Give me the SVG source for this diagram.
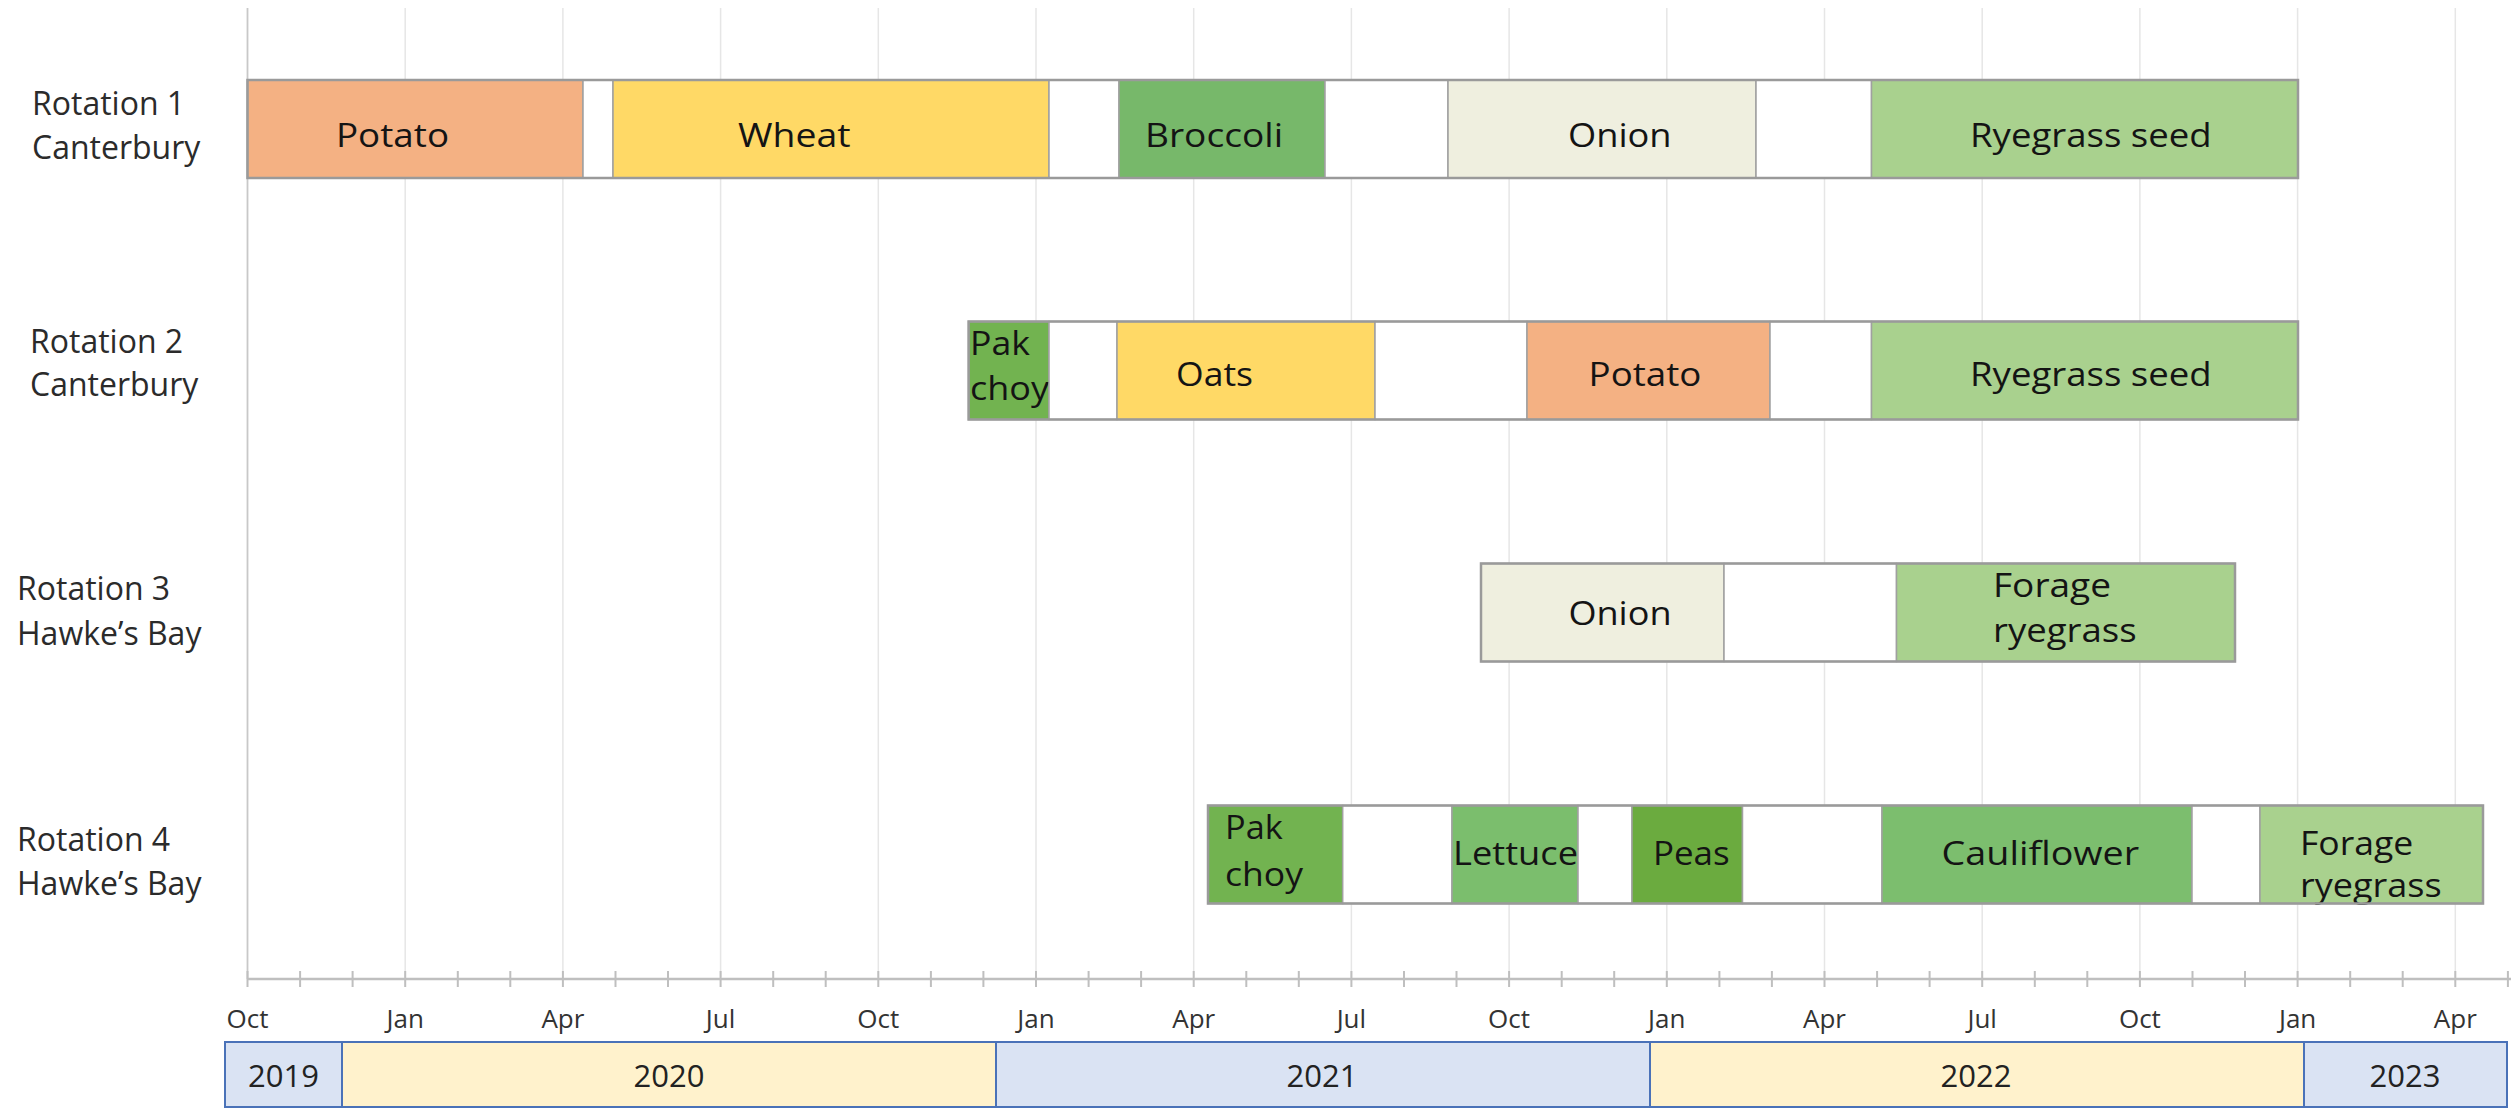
<svg xmlns="http://www.w3.org/2000/svg" width="2514" height="1109" viewBox="0 0 2514 1109">
<style>
  .grid{stroke:#E6E6E6;stroke-width:1.5}
  .axisv{stroke:#C8C8C8;stroke-width:1.8}
  .cell{stroke:#A0A0A0;stroke-width:1.5}
  .outline{fill:none;stroke:#9A9A9A;stroke-width:2.5}
  text{font-family:"Open Sans","Liberation Sans",sans-serif}
  .lbl{font-size:32px;fill:#2B2B2B}
  .crop{font-size:32px;fill:#141414}
  .mon{font-size:26px;fill:#333333;text-anchor:middle}
  .yr{font-size:31px;fill:#222222;text-anchor:middle}
  .ybox{stroke:#4A72B8;stroke-width:2}
  .blue{fill:#DAE3F3}
  .yel{fill:#FFF2CC}
  .w{fill:#FFFFFF}
  .potato{fill:#F4B183}
  .wheat{fill:#FFD966}
  .broc{fill:#77B86A}
  .onion{fill:#EFEFDF}
  .rye{fill:#A9D18E}
  .pak{fill:#72B350}
  .lett{fill:#7BBE6D}
  .peas{fill:#6BAB3F}
  .cauli{fill:#7CBE6E}
</style>

<rect width="2514" height="1109" fill="#FFFFFF"/>

<!-- grid -->
<g id="gridlines">
  <line class="axisv" x1="247.5" y1="8" x2="247.5" y2="979"/>
  <line class="grid" x1="405.2" y1="8" x2="405.2" y2="977"/>
  <line class="grid" x1="562.9" y1="8" x2="562.9" y2="977"/>
  <line class="grid" x1="720.6" y1="8" x2="720.6" y2="977"/>
  <line class="grid" x1="878.3" y1="8" x2="878.3" y2="977"/>
  <line class="grid" x1="1036" y1="8" x2="1036" y2="977"/>
  <line class="grid" x1="1193.7" y1="8" x2="1193.7" y2="977"/>
  <line class="grid" x1="1351.4" y1="8" x2="1351.4" y2="977"/>
  <line class="grid" x1="1509.1" y1="8" x2="1509.1" y2="977"/>
  <line class="grid" x1="1666.8" y1="8" x2="1666.8" y2="977"/>
  <line class="grid" x1="1824.5" y1="8" x2="1824.5" y2="977"/>
  <line class="grid" x1="1982.2" y1="8" x2="1982.2" y2="977"/>
  <line class="grid" x1="2139.9" y1="8" x2="2139.9" y2="977"/>
  <line class="grid" x1="2297.6" y1="8" x2="2297.6" y2="977"/>
  <line class="grid" x1="2455.3" y1="8" x2="2455.3" y2="977"/>
</g>

<!-- axis -->
<g id="axis">
  <line x1="247.5" y1="979" x2="2511" y2="979" stroke="#BFBFBF" stroke-width="2.5"/>
  <path d="M247.5 971V987M300.1 971V987M352.6 971V987M405.2 971V987M457.8 971V987M510.3 971V987M562.9 971V987M615.5 971V987M668 971V987M720.6 971V987M773.2 971V987M825.7 971V987M878.3 971V987M930.9 971V987M983.4 971V987M1036 971V987M1088.6 971V987M1141.1 971V987M1193.7 971V987M1246.3 971V987M1298.8 971V987M1351.4 971V987M1404 971V987M1456.5 971V987M1509.1 971V987M1561.7 971V987M1614.2 971V987M1666.8 971V987M1719.4 971V987M1771.9 971V987M1824.5 971V987M1877.1 971V987M1929.6 971V987M1982.2 971V987M2034.8 971V987M2087.3 971V987M2139.9 971V987M2192.5 971V987M2245 971V987M2297.6 971V987M2350.2 971V987M2402.7 971V987M2455.3 971V987M2507.9 971V987" stroke="#BFBFBF" stroke-width="2" fill="none"/>
  <text class="mon" x="247.5" y="1028">Oct</text>
  <text class="mon" x="405.2" y="1028">Jan</text>
  <text class="mon" x="562.9" y="1028">Apr</text>
  <text class="mon" x="720.6" y="1028">Jul</text>
  <text class="mon" x="878.3" y="1028">Oct</text>
  <text class="mon" x="1036" y="1028">Jan</text>
  <text class="mon" x="1193.7" y="1028">Apr</text>
  <text class="mon" x="1351.4" y="1028">Jul</text>
  <text class="mon" x="1509.1" y="1028">Oct</text>
  <text class="mon" x="1666.8" y="1028">Jan</text>
  <text class="mon" x="1824.5" y="1028">Apr</text>
  <text class="mon" x="1982.2" y="1028">Jul</text>
  <text class="mon" x="2139.9" y="1028">Oct</text>
  <text class="mon" x="2297.6" y="1028">Jan</text>
  <text class="mon" x="2455.3" y="1028">Apr</text>
</g>

<!-- years -->
<g id="year-2019"><rect class="ybox blue" x="225" y="1042" width="117" height="65"/><text class="yr" x="283.5" y="1087">2019</text></g>
<g id="year-2020"><rect class="ybox yel" x="342" y="1042" width="654" height="65"/><text class="yr" x="669" y="1087">2020</text></g>
<g id="year-2021"><rect class="ybox blue" x="996" y="1042" width="654" height="65"/><text class="yr" x="1322" y="1087">2021</text></g>
<g id="year-2022"><rect class="ybox yel" x="1650" y="1042" width="654" height="65"/><text class="yr" x="1976" y="1087">2022</text></g>
<g id="year-2023"><rect class="ybox blue" x="2304" y="1042" width="203" height="65"/><text class="yr" x="2405" y="1087">2023</text></g>

<!-- row labels -->
<g id="label-rotation-1"><text class="lbl" x="32" y="115">Rotation 1</text><text class="lbl" x="32" y="159">Canterbury</text></g>
<g id="label-rotation-2"><text class="lbl" x="30" y="353">Rotation 2</text><text class="lbl" x="30" y="396">Canterbury</text></g>
<g id="label-rotation-3"><text class="lbl" x="17" y="600">Rotation 3</text><text class="lbl" x="17" y="645">Hawke’s Bay</text></g>
<g id="label-rotation-4"><text class="lbl" x="17" y="851">Rotation 4</text><text class="lbl" x="17" y="895">Hawke’s Bay</text></g>

<!-- Rotation 1 -->
<g id="rotation-1">
  <g id="r1-potato"><rect class="cell potato" x="247.5" y="80" width="335.5" height="98"/><text class="crop" x="336" y="147" textLength="113" lengthAdjust="spacingAndGlyphs">Potato</text></g>
  <g id="r1-fallow-1"><rect class="cell w" x="583" y="80" width="30" height="98"/></g>
  <g id="r1-wheat"><rect class="cell wheat" x="613" y="80" width="436" height="98"/><text class="crop" x="738" y="147" textLength="112.5" lengthAdjust="spacingAndGlyphs">Wheat</text></g>
  <g id="r1-fallow-2"><rect class="cell w" x="1049" y="80" width="70" height="98"/></g>
  <g id="r1-broccoli"><rect class="cell broc" x="1119" y="80" width="206" height="98"/><text class="crop" x="1145" y="147" textLength="138" lengthAdjust="spacingAndGlyphs">Broccoli</text></g>
  <g id="r1-fallow-3"><rect class="cell w" x="1325" y="80" width="123" height="98"/></g>
  <g id="r1-onion"><rect class="cell onion" x="1448" y="80" width="308" height="98"/><text class="crop" x="1568" y="147" textLength="103.6" lengthAdjust="spacingAndGlyphs">Onion</text></g>
  <g id="r1-fallow-4"><rect class="cell w" x="1756" y="80" width="115.5" height="98"/></g>
  <g id="r1-ryegrass-seed"><rect class="cell rye" x="1871.5" y="80" width="426.5" height="98"/><text class="crop" x="1970" y="147" textLength="241.7" lengthAdjust="spacingAndGlyphs">Ryegrass seed</text></g>
  <rect class="outline" x="247.5" y="80" width="2050.5" height="98"/>
</g>

<!-- Rotation 2 -->
<g id="rotation-2">
  <g id="r2-pak-choy"><rect class="cell pak" x="968.6" y="321.5" width="80.4" height="98"/><text class="crop" x="970" y="355" textLength="60" lengthAdjust="spacingAndGlyphs">Pak</text><text class="crop" x="970" y="400" textLength="79" lengthAdjust="spacingAndGlyphs">choy</text></g>
  <g id="r2-fallow-1"><rect class="cell w" x="1049" y="321.5" width="68" height="98"/></g>
  <g id="r2-oats"><rect class="cell wheat" x="1117" y="321.5" width="258" height="98"/><text class="crop" x="1176" y="386" textLength="77" lengthAdjust="spacingAndGlyphs">Oats</text></g>
  <g id="r2-fallow-2"><rect class="cell w" x="1375" y="321.5" width="152" height="98"/></g>
  <g id="r2-potato"><rect class="cell potato" x="1527" y="321.5" width="243" height="98"/><text class="crop" x="1588.6" y="386" textLength="112.8" lengthAdjust="spacingAndGlyphs">Potato</text></g>
  <g id="r2-fallow-3"><rect class="cell w" x="1770" y="321.5" width="101.5" height="98"/></g>
  <g id="r2-ryegrass-seed"><rect class="cell rye" x="1871.5" y="321.5" width="426.5" height="98"/><text class="crop" x="1970" y="386" textLength="241.7" lengthAdjust="spacingAndGlyphs">Ryegrass seed</text></g>
  <rect class="outline" x="968.6" y="321.5" width="1329.4" height="98"/>
</g>

<!-- Rotation 3 -->
<g id="rotation-3">
  <g id="r3-onion"><rect class="cell onion" x="1481" y="563.5" width="243" height="98"/><text class="crop" x="1568.4" y="625" textLength="103.2" lengthAdjust="spacingAndGlyphs">Onion</text></g>
  <g id="r3-fallow-1"><rect class="cell w" x="1724" y="563.5" width="172.5" height="98"/></g>
  <g id="r3-forage-ryegrass"><rect class="cell rye" x="1896.5" y="563.5" width="338.5" height="98"/><text class="crop" x="1993" y="597" textLength="118" lengthAdjust="spacingAndGlyphs">Forage</text><text class="crop" x="1993" y="642" textLength="143.7" lengthAdjust="spacingAndGlyphs">ryegrass</text></g>
  <rect class="outline" x="1481" y="563.5" width="754" height="98"/>
</g>

<!-- Rotation 4 -->
<g id="rotation-4">
  <g id="r4-pak-choy"><rect class="cell pak" x="1208" y="805.5" width="134.7" height="98"/><text class="crop" x="1225" y="839" textLength="57.7" lengthAdjust="spacingAndGlyphs">Pak</text><text class="crop" x="1225" y="886" textLength="78" lengthAdjust="spacingAndGlyphs">choy</text></g>
  <g id="r4-fallow-1"><rect class="cell w" x="1342.7" y="805.5" width="109.3" height="98"/></g>
  <g id="r4-lettuce"><rect class="cell lett" x="1452" y="805.5" width="126" height="98"/><text class="crop" x="1453" y="865" textLength="125" lengthAdjust="spacingAndGlyphs">Lettuce</text></g>
  <g id="r4-fallow-2"><rect class="cell w" x="1578" y="805.5" width="54" height="98"/></g>
  <g id="r4-peas"><rect class="cell peas" x="1632" y="805.5" width="110.5" height="98"/><text class="crop" x="1653" y="865" textLength="76.6" lengthAdjust="spacingAndGlyphs">Peas</text></g>
  <g id="r4-fallow-3"><rect class="cell w" x="1742.5" y="805.5" width="139.5" height="98"/></g>
  <g id="r4-cauliflower"><rect class="cell cauli" x="1882" y="805.5" width="310" height="98"/><text class="crop" x="1941.6" y="865" textLength="197.5" lengthAdjust="spacingAndGlyphs">Cauliflower</text></g>
  <g id="r4-fallow-4"><rect class="cell w" x="2192" y="805.5" width="68" height="98"/></g>
  <g id="r4-forage-ryegrass"><rect class="cell rye" x="2260" y="805.5" width="223" height="98"/><text class="crop" x="2300" y="855" textLength="113.3" lengthAdjust="spacingAndGlyphs">Forage</text><text class="crop" x="2300" y="897" textLength="141.7" lengthAdjust="spacingAndGlyphs">ryegrass</text></g>
  <rect class="outline" x="1208" y="805.5" width="1275" height="98"/>
</g>

<g id="connectors"/>
</svg>
